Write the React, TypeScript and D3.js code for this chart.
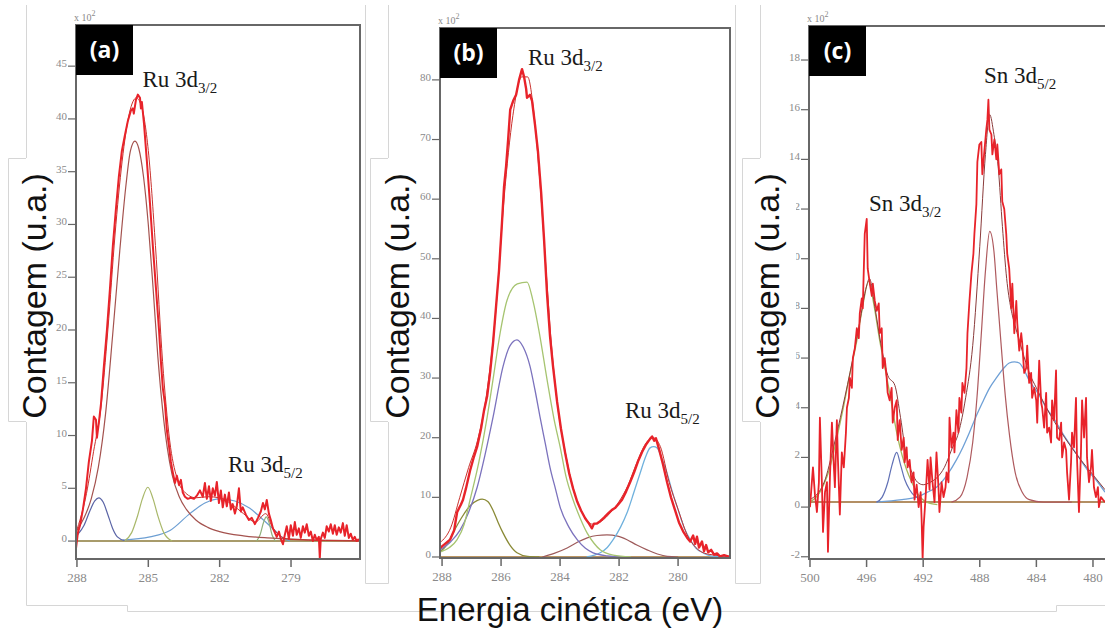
import React from 'react';
import * as d3 from 'd3';

type Pt = [number, number];

// ---------- Panel (a): Ru 3d, counts ×10² vs energy (eV) ----------
const aMeasured: Pt[] = [
  [288.04, -0.7], [287.96, 0.8], [287.87, 1.5], [287.75, 3.0], [287.62, 5.0], [287.5, 7.5], [287.37, 9.5],
  [287.29, 11.8], [287.2, 11.5], [287.16, 9.8], [287.08, 11.2], [286.99, 13.0], [286.87, 16.5], [286.74, 20.0],
  [286.61, 24.0], [286.49, 28.0], [286.36, 31.5], [286.24, 34.5], [286.11, 37.0], [285.98, 38.5], [285.86, 39.8],
  [285.73, 40.8], [285.65, 41.0], [285.61, 40.5], [285.52, 41.8], [285.44, 42.3], [285.35, 42.0], [285.31, 41.0],
  [285.27, 41.6], [285.18, 39.5], [285.06, 36.0], [284.93, 32.0], [284.81, 28.0], [284.68, 24.0], [284.55, 20.0],
  [284.47, 17.0], [284.39, 14.5], [284.3, 13.0], [284.22, 10.5], [284.13, 9.0], [284.05, 7.5], [283.97, 6.5],
  [283.88, 5.5], [283.8, 6.2], [283.71, 5.3], [283.63, 5.8], [283.55, 4.6], [283.46, 4.2], [283.34, 4.0],
  [283.21, 4.1], [283.08, 4.0], [282.96, 4.3], [282.83, 4.8], [282.71, 4.2], [282.62, 5.5], [282.54, 4.0],
  [282.45, 5.2], [282.37, 3.8], [282.29, 5.0], [282.2, 4.3], [282.12, 5.6], [282.03, 3.6], [281.95, 4.8],
  [281.87, 3.2], [281.78, 4.4], [281.7, 3.3], [281.61, 4.6], [281.53, 3.0], [281.45, 3.5], [281.36, 2.6],
  [281.28, 3.3], [281.19, 5.0], [281.11, 2.8], [281.03, 3.2], [280.9, 2.5], [280.77, 2.0], [280.65, 2.2],
  [280.52, 1.6], [280.39, 2.2], [280.27, 2.8], [280.18, 3.6], [280.1, 3.0], [280.02, 3.9], [279.93, 2.6],
  [279.85, 2.0], [279.76, 1.2], [279.68, 0.8], [279.6, 0.4], [279.51, 0.9], [279.43, 0.2], [279.34, -0.3],
  [279.26, 0.6], [279.18, 1.4], [279.09, 0.2], [279.01, 1.5], [278.92, 0.5], [278.84, 1.8], [278.76, 0.6],
  [278.67, 1.2], [278.59, 0.3], [278.5, 1.4], [278.42, 0.8], [278.34, 1.6], [278.25, 0.5], [278.17, 0.9],
  [278.08, 0.0], [278.0, 0.6], [277.92, 0.1], [277.83, 0.4], [277.79, -1.6], [277.75, 0.2], [277.66, 0.8],
  [277.58, 0.3], [277.5, 1.4], [277.41, 0.9], [277.33, 1.6], [277.24, 0.7], [277.16, 1.5], [277.08, 0.6],
  [276.99, 1.3], [276.91, 0.8], [276.82, 1.7], [276.74, 0.5], [276.66, 1.5], [276.57, 0.3], [276.49, 0.7],
  [276.4, 0.1], [276.32, 0.4], [276.24, 0.0], [276.15, 0.2],
];
const aEnvelope: Pt[] = [
  [288.04, 0.8], [287.6, 4.5], [287.3, 8.5], [287.0, 12.5], [286.7, 20], [286.4, 29], [286.1, 36], [285.8, 40.5],
  [285.5, 42], [285.3, 41.3], [285.0, 37], [284.7, 28], [284.4, 17], [284.1, 9.5], [283.8, 6], [283.5, 4.7],
  [283.0, 4.1], [282.5, 4.2], [282.0, 4.1], [281.5, 3.5], [281.0, 2.6], [280.5, 1.8], [280.06, 2.6], [279.8, 1.4],
  [279.4, 0.4], [279.0, 0.15], [276.1, 0.0],
];
const aMain: Pt[] = [
  [288.04, 0.9], [287.7, 2.2], [287.4, 4.0], [287.1, 7.0], [286.8, 12.0], [286.5, 19.5], [286.2, 27.5],
  [285.95, 33.5], [285.75, 37.0], [285.56, 37.9], [285.4, 37.2], [285.2, 34.5], [285.0, 30.0], [284.8, 24.0],
  [284.6, 17.5], [284.4, 12.5], [284.2, 8.8], [284.0, 6.3], [283.7, 4.2], [283.4, 3.0], [283.0, 2.0], [282.5, 1.3],
  [282.0, 0.9], [281.0, 0.5], [280.0, 0.3], [278.5, 0.15], [276.1, 0.05],
];
const aSmallBlue: Pt[] = [
  [287.97, 0.6], [287.7, 1.5], [287.45, 2.9], [287.25, 3.8], [287.08, 4.1], [286.9, 3.7], [286.7, 2.5],
  [286.5, 1.2], [286.3, 0.4], [286.0, 0.05],
];
const aGreen: Pt[] = [
  [286.0, 0], [285.7, 0.8], [285.45, 2.4], [285.25, 4.0], [285.02, 5.1], [284.8, 4.0], [284.6, 2.4],
  [284.35, 0.8], [284.0, 0],
];
const aBroad: Pt[] = [
  [286.07, 0.1], [284.93, 0.4], [284.09, 1.0], [283.25, 2.6], [282.62, 3.6], [282.0, 4.0], [281.36, 3.8],
  [280.73, 3.1], [280.31, 2.3], [279.68, 1.0], [279.34, 0.3], [279.05, 0],
];
const aSmallGreen: Pt[] = [
  [280.45, 0], [280.3, 0.6], [280.15, 1.8], [280.04, 2.3], [279.93, 1.8], [279.8, 0.6], [279.65, 0],
];
const aBaseline: Pt[] = [[288.04, 0], [276.1, 0]];
const aXTicks = [288, 285, 282, 279];
const aYTicks = [0, 5, 10, 15, 20, 25, 30, 35, 40, 45];

// ---------- Panel (b): Ru 3d ----------
const bMeasured: Pt[] = [
  [288.07, 1.5], [287.9, 2.2], [287.73, 2.9], [287.59, 4.5], [287.49, 7.5], [287.42, 8.2], [287.36, 8.8],
  [287.29, 9.6], [287.19, 11.5], [287.05, 14.5], [286.92, 16.8], [286.81, 18.5], [286.68, 21.5], [286.58, 24.5],
  [286.47, 27], [286.37, 31], [286.27, 36], [286.17, 42], [286.07, 48], [285.97, 56], [285.9, 62], [285.83, 65.5],
  [285.76, 70], [285.69, 75], [285.59, 76.5], [285.49, 77.5], [285.39, 80], [285.29, 81.8], [285.22, 80.5],
  [285.15, 78.5], [285.12, 77], [285.02, 77.5], [284.95, 76.5], [284.85, 72.5], [284.75, 68], [284.64, 61],
  [284.54, 53], [284.44, 44], [284.34, 37], [284.24, 32], [284.1, 26], [283.97, 21.5], [283.83, 17.5],
  [283.69, 14], [283.56, 11.5], [283.42, 9.3], [283.29, 7.8], [283.15, 6.5], [283.02, 5.6], [282.92, 4.8],
  [282.85, 5.6], [282.75, 5.6], [282.64, 6.0], [282.51, 6.6], [282.37, 7.3], [282.24, 7.9], [282.14, 8.2],
  [282.03, 8.8], [281.9, 9.6], [281.76, 11], [281.63, 12.5], [281.49, 14.2], [281.36, 16], [281.22, 17.6],
  [281.08, 18.9], [280.95, 19.8], [280.88, 20.2], [280.81, 19.5], [280.75, 19.9], [280.64, 18], [280.51, 15.5],
  [280.37, 12.5], [280.24, 10], [280.1, 7.8], [279.97, 5.8], [279.83, 4.3], [279.69, 3.2], [279.59, 2.6],
  [279.49, 3.6], [279.42, 2.2], [279.36, 3.4], [279.29, 1.6], [279.19, 2.6], [279.12, 1.0], [279.05, 2.0],
  [278.98, 0.8], [278.88, 1.2], [278.78, 0.4], [278.68, 0.6], [278.58, 0.1], [278.44, 0.3], [278.31, 0.1],
  [278.24, 0.1],
];
const bEnvelope: Pt[] = [
  [288.07, 2.4], [287.7, 5.0], [287.4, 10.0], [287.1, 15], [286.8, 19.5], [286.5, 27], [286.2, 40], [285.9, 60],
  [285.6, 74], [285.3, 80.5], [285.1, 80.5], [284.9, 75], [284.7, 64], [284.5, 50], [284.3, 36], [284.1, 26],
  [283.8, 17], [283.5, 10.5], [283.2, 7.0], [282.9, 5.5], [282.6, 6.0], [282.3, 7.4], [282.0, 9.3], [281.7, 12],
  [281.4, 15.8], [281.1, 19.0], [280.85, 20.0], [280.6, 18.5], [280.3, 12.5], [280.0, 8.0], [279.7, 3.8],
  [279.4, 1.6], [279.0, 0.5], [278.24, 0.1],
];
const bOlive: Pt[] = [
  [288.07, 0.8], [287.8, 2.3], [287.63, 4.0], [287.35, 6.5], [287.05, 8.6], [286.8, 9.5], [286.64, 9.7],
  [286.45, 9.3], [286.27, 7.8], [286.1, 5.8], [285.93, 4.0], [285.7, 2.0], [285.46, 0.7], [285.1, 0.1], [284.7, 0],
];
const bPurple: Pt[] = [
  [288.07, 1.2], [287.7, 2.6], [287.39, 4.5], [287.1, 7.5], [286.81, 11.7], [286.55, 17.0], [286.27, 23.5],
  [285.93, 32.0], [285.7, 35.4], [285.46, 36.4], [285.25, 35.2], [285.02, 32.0], [284.85, 28.0], [284.68, 23.5],
  [284.5, 19.0], [284.34, 15.0], [284.15, 11.3], [284.0, 8.4], [283.7, 5.0], [283.42, 2.9], [283.15, 1.5],
  [282.88, 0.7], [282.4, 0.2], [281.8, 0],
];
const bGreen: Pt[] = [
  [288.07, 0.8], [287.75, 1.6], [287.49, 2.9], [287.25, 5.5], [287.05, 9.6], [286.75, 16.0], [286.47, 23.5],
  [286.25, 30.5], [286.03, 37.6], [285.8, 43.0], [285.45, 45.8], [285.12, 46.1], [284.92, 43.0], [284.7, 37.5],
  [284.44, 29.7], [284.2, 23.0], [284.0, 18.5], [283.8, 13.5], [283.56, 9.6], [283.3, 6.3], [283.08, 4.0],
  [282.85, 2.3], [282.64, 1.2], [282.2, 0.3], [281.6, 0],
];
const bBrown: Pt[] = [
  [284.6, 0], [284.2, 0.6], [283.76, 1.5], [283.4, 2.5], [283.08, 3.2], [282.75, 3.6], [282.41, 3.7],
  [282.05, 3.5], [281.73, 2.9], [281.4, 2.0], [281.05, 1.2], [280.7, 0.5], [280.37, 0.1], [280.0, 0],
];
const bCyan: Pt[] = [
  [283.1, 0], [282.64, 0.7], [282.4, 1.6], [282.2, 2.9], [281.95, 5.0], [281.73, 7.4], [281.5, 10.8],
  [281.29, 14.0], [281.1, 16.8], [280.95, 18.3], [280.83, 18.5], [280.71, 18.3], [280.55, 16.5], [280.37, 14.0],
  [280.2, 11.0], [280.03, 8.4], [279.8, 5.0], [279.59, 2.9], [279.4, 1.5], [279.15, 0.7], [278.8, 0.1], [278.24, 0],
];
const bBaseline: Pt[] = [[288.07, 0], [278.24, 0]];
const bXTicks = [288, 286, 284, 282, 280];
const bYTicks = [0, 10, 20, 30, 40, 50, 60, 70, 80];

// ---------- Panel (c): Sn 3d ----------
const cMeasured: Pt[] = [
  [500.0, 0], [499.79, 1.6], [499.65, 0.5], [499.51, -0.2], [499.37, 1.0], [499.3, 3.6], [499.15, 0.8],
  [499.08, -1.0], [498.94, 0.6], [498.8, 1.0], [498.73, -1.8], [498.59, 1.2], [498.45, 3.4], [498.31, 1.6],
  [498.24, 0.8], [498.1, 3.5], [498.03, 2.0], [497.89, -0.3], [497.75, 2.2], [497.61, 1.6], [497.46, 3.0],
  [497.39, 4.0], [497.25, 4.4], [497.18, 5.2], [497.04, 4.8], [496.97, 6.0], [496.83, 6.4], [496.69, 7.2],
  [496.55, 6.8], [496.48, 7.8], [496.34, 8.4], [496.27, 8.0], [496.13, 11.0], [495.99, 11.6], [495.92, 9.6],
  [495.77, 9.0], [495.63, 8.5], [495.56, 9.0], [495.42, 8.3], [495.28, 7.9], [495.14, 8.2], [495.07, 7.0],
  [494.93, 7.2], [494.86, 5.6], [494.72, 6.0], [494.58, 5.2], [494.51, 4.6], [494.37, 4.3], [494.23, 4.8],
  [494.15, 3.4], [494.01, 4.0], [493.87, 4.3], [493.8, 2.7], [493.66, 3.5], [493.52, 2.3], [493.38, 2.8],
  [493.31, 1.8], [493.17, 2.4], [493.1, 1.6], [492.96, 1.9], [492.82, 1.0], [492.68, 1.4], [492.61, 0.3],
  [492.46, 0.9], [492.32, 0.0], [492.18, 0.6], [492.11, -0.5], [492.04, -2.1], [491.97, -0.8], [491.83, 0.4],
  [491.69, 1.9], [491.55, 0.7], [491.48, 2.0], [491.34, 1.0], [491.2, 0.2], [491.06, 2.2], [490.92, 0.8],
  [490.85, -0.2], [490.7, 1.0], [490.56, 0.4], [490.42, 0.8], [490.35, 1.4], [490.21, 1.0], [490.14, 3.6],
  [490.0, 2.4], [489.86, 3.0], [489.79, 2.2], [489.65, 3.9], [489.51, 3.0], [489.44, 4.4], [489.3, 3.8],
  [489.23, 5.0], [489.08, 4.6], [488.94, 5.6], [488.87, 7.0], [488.73, 8.3], [488.59, 9.4], [488.45, 10.2],
  [488.38, 11.0], [488.24, 12.2], [488.17, 13.9], [488.03, 14.6], [487.89, 14.7], [487.82, 13.4], [487.68, 14.3],
  [487.54, 15.2], [487.46, 15.6], [487.39, 16.4], [487.32, 15.2], [487.18, 15.0], [487.11, 14.2], [486.97, 14.8],
  [486.83, 14.0], [486.76, 14.6], [486.62, 13.4], [486.48, 13.6], [486.41, 12.3], [486.27, 12.0], [486.13, 11.0],
  [486.06, 10.2], [485.92, 9.6], [485.77, 8.0], [485.7, 9.0], [485.56, 7.0], [485.42, 8.3], [485.35, 7.4],
  [485.21, 6.3], [485.07, 7.0], [485.0, 6.6], [484.86, 5.4], [484.72, 5.6], [484.65, 6.5], [484.51, 5.0],
  [484.37, 5.4], [484.3, 4.4], [484.15, 4.8], [484.01, 4.3], [483.94, 3.4], [483.8, 5.9], [483.66, 4.2],
  [483.59, 4.0], [483.45, 3.2], [483.31, 4.6], [483.24, 3.0], [483.1, 3.2], [482.96, 2.6], [482.89, 4.3],
  [482.75, 3.5], [482.61, 5.5], [482.54, 2.8], [482.39, 2.7], [482.25, 3.4], [482.18, 2.0], [482.04, 2.6],
  [481.9, 2.3], [481.83, 1.4], [481.69, 0.3], [481.55, 1.8], [481.48, 3.0], [481.34, 2.4], [481.2, 4.4],
  [481.13, 2.0], [480.99, -0.2], [480.85, 2.2], [480.77, 4.3], [480.63, 2.8], [480.49, 4.4], [480.42, 2.0],
  [480.28, 1.0], [480.14, 1.6], [480.07, 2.3], [479.93, 0.8], [479.79, 0.4], [479.65, 0.8], [479.58, 0.0],
  [479.44, 0.4], [479.3, 0.3], [479.15, 0.2],
];
const cEnvelope: Pt[] = [
  [500.0, 0.3], [499.0, 1.0], [498.3, 2.5], [497.7, 4.0], [497.0, 5.9], [496.5, 7.4], [496.0, 8.9], [495.8, 9.2],
  [495.4, 8.0], [495.0, 6.6], [494.5, 5.3], [494.0, 4.9], [493.6, 3.6], [493.2, 2.1], [492.8, 1.4], [492.4, 1.0],
  [492.0, 0.9], [491.5, 1.0], [491.0, 1.2], [490.5, 1.6], [490.0, 2.3], [489.5, 3.0], [489.0, 4.4], [488.5, 6.5],
  [488.0, 10.5], [487.6, 14.2], [487.3, 15.8], [487.0, 15.0], [486.7, 13.7], [486.4, 11.3], [486.1, 9.2],
  [485.8, 8.0], [485.5, 7.3], [485.0, 6.3], [484.5, 5.4], [484.0, 4.8], [483.0, 3.7], [482.0, 2.8], [481.0, 2.0],
  [480.0, 1.3], [479.15, 0.7],
];
const cGreen: Pt[] = [
  [500.0, 0.2], [499.3, 0.6], [498.59, 1.6], [498.1, 2.8], [497.68, 3.9], [497.2, 5.3], [496.69, 6.7],
  [496.3, 8.0], [495.85, 9.1], [495.5, 8.2], [495.07, 6.7], [494.7, 5.6], [494.37, 4.6], [493.87, 3.0],
  [493.5, 2.1], [493.17, 1.5], [492.8, 1.0], [492.46, 0.6], [491.76, 0.2], [491.0, 0.1],
];
const cSmallBlue: Pt[] = [
  [495.3, 0.2], [494.9, 0.4], [494.5, 1.0], [494.2, 1.7], [493.87, 2.2], [493.6, 1.7], [493.3, 1.1],
  [492.96, 0.7], [492.6, 0.45], [492.25, 0.35],
];
const cBrown: Pt[] = [
  [490.0, 0.2], [489.4, 0.4], [488.9, 1.2], [488.5, 2.6], [488.2, 4.4], [487.9, 6.9], [487.6, 9.5], [487.3, 11.1],
  [487.0, 10.3], [486.8, 8.8], [486.5, 6.6], [486.2, 4.5], [485.9, 2.9], [485.5, 1.4], [485.0, 0.6], [484.5, 0.3],
  [483.5, 0.2], [481.5, 0.2],
];
const cBroad: Pt[] = [
  [495.3, 0.2], [493.5, 0.3], [492.46, 0.4], [491.7, 0.6], [491.06, 0.8], [490.3, 1.3], [489.65, 1.9],
  [489.2, 2.4], [488.73, 3.0], [488.3, 3.6], [487.82, 4.2], [487.3, 4.8], [486.83, 5.2], [486.3, 5.6],
  [485.92, 5.8], [485.55, 5.85], [485.21, 5.8], [484.85, 5.5], [484.51, 5.1], [483.9, 4.6], [483.31, 4.0],
  [482.7, 3.5], [482.18, 3.0], [481.6, 2.5], [480.99, 2.0], [480.4, 1.5], [479.79, 1.1], [479.15, 0.6],
];
const cBaseline: Pt[] = [[500.07, 0.2], [479.15, 0.2]];
const cXTicks = [500, 496, 492, 488, 484, 480];
const cYTicks = [-2, 0, 2, 4, 6, 8, 10, 12, 14, 16, 18];

// ---------- drawing ----------
type Series = { data: Pt[]; color: string; width: number; smooth: boolean };
type Note = { x: number; y: number; main: string; sub: string };
type PanelCfg = {
  id: string;
  tag: string;
  left: number; right: number; top: number; bottom: number;
  xDomain: [number, number];
  yDomain: [number, number];
  xTicks: number[];
  yTicks: number[];
  series: Series[];
  notes: Note[];
  frameRight: boolean;
};

const RED = '#e8232a';

const panels: PanelCfg[] = [
  {
    id: 'a', tag: '(a)', left: 76, right: 360, top: 25, bottom: 559,
    xDomain: [288.04, 276.1], yDomain: [-1.7, 48.9], xTicks: aXTicks, yTicks: aYTicks, frameRight: true,
    series: [
      { data: aBaseline, color: '#8b7a3a', width: 1.5, smooth: false },
      { data: aBroad, color: '#6d9fd3', width: 1.2, smooth: true },
      { data: aGreen, color: '#a9b86a', width: 1.2, smooth: true },
      { data: aSmallBlue, color: '#5a64a6', width: 1.2, smooth: true },
      { data: aSmallGreen, color: '#8fb07a', width: 1.2, smooth: true },
      { data: aMain, color: '#a4524e', width: 1.2, smooth: true },
      { data: aEnvelope, color: '#c9302c', width: 1, smooth: true },
      { data: aMeasured, color: RED, width: 2, smooth: false },
    ],
    notes: [
      { x: 142.5, y: 87, main: 'Ru 3d', sub: '3/2' },
      { x: 228, y: 472, main: 'Ru 3d', sub: '5/2' },
    ],
  },
  {
    id: 'b', tag: '(b)', left: 440, right: 730, top: 28, bottom: 558,
    xDomain: [288.07, 278.24], yDomain: [-0.17, 88.7], xTicks: bXTicks, yTicks: bYTicks, frameRight: true,
    series: [
      { data: bBaseline, color: '#a4722e', width: 1.5, smooth: false },
      { data: bBrown, color: '#9e5b5b', width: 1.2, smooth: true },
      { data: bCyan, color: '#6fb1dd', width: 1.3, smooth: true },
      { data: bOlive, color: '#8a8a36', width: 1.3, smooth: true },
      { data: bPurple, color: '#7b72bd', width: 1.3, smooth: true },
      { data: bGreen, color: '#a6c470', width: 1.3, smooth: true },
      { data: bEnvelope, color: '#c9302c', width: 1, smooth: true },
      { data: bMeasured, color: RED, width: 2.4, smooth: false },
    ],
    notes: [
      { x: 528, y: 65, main: 'Ru 3d', sub: '3/2' },
      { x: 625, y: 418, main: 'Ru 3d', sub: '5/2' },
    ],
  },
  {
    id: 'c', tag: '(c)', left: 809, right: 1105, top: 26, bottom: 559,
    xDomain: [500.07, 479.15], yDomain: [-2.09, 19.37], xTicks: cXTicks, yTicks: cYTicks, frameRight: false,
    series: [
      { data: cBaseline, color: '#9a6a30', width: 1.5, smooth: false },
      { data: cBroad, color: '#6fa0d6', width: 1.3, smooth: true },
      { data: cSmallBlue, color: '#6070b5', width: 1.2, smooth: true },
      { data: cGreen, color: '#a5b75c', width: 1.3, smooth: true },
      { data: cBrown, color: '#ae5a5e', width: 1.2, smooth: true },
      { data: cEnvelope, color: '#8a3a3a', width: 1, smooth: true },
      { data: cMeasured, color: RED, width: 1.8, smooth: false },
    ],
    notes: [
      { x: 984, y: 83, main: 'Sn 3d', sub: '5/2' },
      { x: 869, y: 211, main: 'Sn 3d', sub: '3/2' },
    ],
  },
];

const SERIF = '"Liberation Serif", "Times New Roman", serif';
const SANS = '"Liberation Sans", Arial, sans-serif';
const TICK = '#8a8a8a';
const FRAME = '#676767';

function Panel({ cfg }: { cfg: PanelCfg }) {
  const x = d3.scaleLinear().domain(cfg.xDomain).range([cfg.left, cfg.right]);
  const y = d3.scaleLinear().domain(cfg.yDomain).range([cfg.bottom, cfg.top]);
  const straight = d3.line<Pt>().x((d) => x(d[0])).y((d) => y(d[1]));
  const curved = d3.line<Pt>().x((d) => x(d[0])).y((d) => y(d[1])).curve(d3.curveMonotoneX);
  const w = cfg.right - cfg.left;
  const h = cfg.bottom - cfg.top;
  const frameW = cfg.frameRight ? w : w + 10;
  return (
    <g>
      <defs>
        <clipPath id={`plot-${cfg.id}`}>
          <rect x={cfg.left} y={cfg.top} width={w} height={h} />
        </clipPath>
      </defs>
      <g clipPath={`url(#plot-${cfg.id})`}>
        {cfg.series.map((s, i) => (
          <path
            key={i}
            d={(s.smooth ? curved : straight)(s.data) || ''}
            fill="none"
            stroke={s.color}
            strokeWidth={s.width}
            strokeLinejoin="round"
          />
        ))}
      </g>
      <rect x={cfg.left} y={cfg.top} width={frameW} height={h} fill="none" stroke={FRAME} strokeWidth={2} />
      {cfg.xTicks.map((t) => (
        <g key={t}>
          <line x1={x(t)} x2={x(t)} y1={cfg.bottom} y2={cfg.bottom + 8} stroke={FRAME} strokeWidth={1.5} />
          <text x={x(t)} y={cfg.bottom + 23} textAnchor="middle" fontFamily={SERIF} fontSize={13} fill={TICK}>
            {t}
          </text>
        </g>
      ))}
      {cfg.yTicks.map((t) => (
        <g key={t}>
          <line x1={cfg.left - 8} x2={cfg.left} y1={y(t)} y2={y(t)} stroke={FRAME} strokeWidth={1.2} />
          <text x={cfg.left - 9} y={y(t) + 1} textAnchor="end" fontFamily={SERIF} fontSize={11} fill={TICK}>
            {t}
          </text>
        </g>
      ))}
      <text x={cfg.left - 2} y={cfg.top - 4} fontFamily={SERIF} fontSize={10} fill={TICK}>
        x 10
        <tspan dy={-5} fontSize={8}>2</tspan>
      </text>
      <rect x={cfg.left} y={cfg.top} width={57} height={50} fill="#000" />
      <text
        x={cfg.left + 28.5}
        y={cfg.top + 33}
        textAnchor="middle"
        fontFamily='"Open Sans", "Noto Sans", sans-serif'
        fontWeight={700}
        fontSize={23}
        fill="#fff"
      >
        {cfg.tag}
      </text>
      {cfg.notes.map((n, i) => (
        <text key={i} x={n.x} y={n.y} fontFamily={SERIF} fontSize={23} fill="#1a1a1a">
          {n.main}
          <tspan dy={6} fontSize={15}>{n.sub}</tspan>
        </text>
      ))}
    </g>
  );
}

const BORDER = '#d6d6d6';
const yLabelBoxes = [
  { x0: 8, x1: 26, cx: 46 },
  { x0: 370, x1: 388, cx: 409 },
  { x0: 742, x1: 760, cx: 779 },
];

export default function App() {
  return (
    <svg
      width={1105}
      height={632}
      viewBox="0 0 1105 632"
      style={{ position: 'absolute', left: 0, top: 0, background: '#fff' }}
    >
      <rect x={0} y={0} width={1105} height={632} fill="#fff" />
      {/* light frames of the three figure boxes */}
      <g fill="none" stroke={BORDER} strokeWidth={1}>
        <path d="M26.5,5 V158 M26.5,422 V605.5 H127.5" />
        <path d="M365.5,5 V583.5 H388.5" />
        <path d="M388.5,5 V158 M388.5,422 V583.5" />
        <path d="M735.5,5 V583.5 H760.5" />
        <path d="M760.5,5 V158 M760.5,422 V583.5" />
        <path d="M127.5,605.5 V611.5 H1056.5 V605.5 H1105" />
      </g>
      {panels.map((p) => (
        <Panel key={p.id} cfg={p} />
      ))}
      {/* y-axis caption boxes */}
      <rect x={743} y={160} width={53} height={261} fill="#fff" />
      {yLabelBoxes.map((b, i) => (
        <g key={i}>
          <path
            d={`M${b.x1},158.5 H${b.x0 + 0.5} V421.5 H${b.x1}`}
            fill="none"
            stroke={BORDER}
            strokeWidth={1}
          />
          <text
            transform={`translate(${b.cx},296) rotate(-90)`}
            textAnchor="middle"
            fontFamily={SANS}
            fontSize={34}
            fill="#111"
          >
            Contagem (u.a.)
          </text>
        </g>
      ))}
      <text x={570} y={621} textAnchor="middle" fontFamily={SANS} fontSize={33} fill="#111">
        Energia cinética (eV)
      </text>
    </svg>
  );
}
